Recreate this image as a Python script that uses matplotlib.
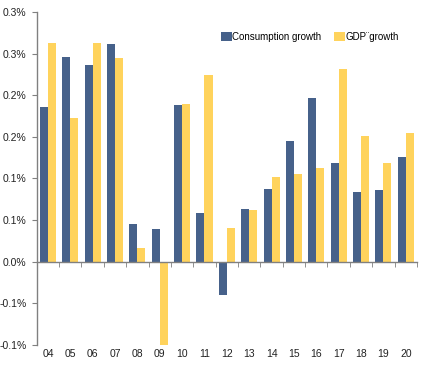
import matplotlib.pyplot as plt
import numpy as np

years = ["04", "05", "06", "07", "08", "09", "10", "11", "12",
         "13", "14", "15", "16", "17", "18", "19", "20"]
consumption = [0.186, 0.246, 0.236, 0.261, 0.045, 0.039, 0.188, 0.059, -0.040,
               0.063, 0.087, 0.145, 0.197, 0.118, 0.084, 0.086, 0.126]
gdp = [0.263, 0.173, 0.263, 0.245, 0.016, -0.100, 0.189, 0.224, 0.041,
       0.062, 0.102, 0.105, 0.113, 0.231, 0.151, 0.119, 0.154]
y_ticks = [-0.10, -0.05, 0.0, 0.05, 0.10, 0.15, 0.20, 0.25, 0.30]
y_labels = ["-0.1%", "-0.1%", "0.0%", "0.1%", "0.1%", "0.2%", "0.2%", "0.3%", "0.3%"]

BLUE = "#46618A"
YELLOW = "#FFD35C"
GREY = "#808080"

plt.rcParams["font.family"] = ["Liberation Sans", "DejaVu Sans"]


def main():
    fig = plt.figure(figsize=(4.22, 3.71), dpi=100)
    ax = fig.add_axes([0.087, 0.070, 0.901, 0.898])

    x = np.arange(len(years))
    width = 0.36
    ax.bar(x - width / 2, consumption, width, color=BLUE, label="Consumption growth")
    ax.bar(x + width / 2, gdp, width, color=YELLOW, label="GDP¨growth")

    ax.set_xlim(-0.5, len(years) - 0.5)
    ax.set_ylim(-0.10, 0.30)

    ax.set_yticks(y_ticks)
    ax.set_yticklabels(y_labels)

    ax.set_xticks(x)
    ax.set_xticklabels(years)
    ax.set_xticks(np.arange(len(years) + 1) - 0.5, minor=True)
    ax.tick_params(axis="x", which="major", length=0, pad=63)
    ax.tick_params(axis="x", which="minor", length=3.5, color=GREY, direction="out")
    ax.tick_params(axis="y", length=3.5, color=GREY, direction="out", pad=4)
    ax.tick_params(labelsize=7.5, labelcolor="#222222")

    for side in ["top", "right"]:
        ax.spines[side].set_visible(False)
    ax.spines["bottom"].set_position(("data", 0))
    for side in ["left", "bottom"]:
        ax.spines[side].set_color(GREY)
        ax.spines[side].set_linewidth(1.0)

    ax.legend(
        loc="center left",
        bbox_to_anchor=(0.474, 0.925),
        ncol=2,
        frameon=False,
        fontsize=7,
        handlelength=1.1,
        handleheight=1.0,
        handletextpad=0.1,
        columnspacing=1.3,
        borderaxespad=0,
    )

    plt.savefig("out.png", dpi=100)
    plt.close()


if __name__ == "__main__":
    main()
